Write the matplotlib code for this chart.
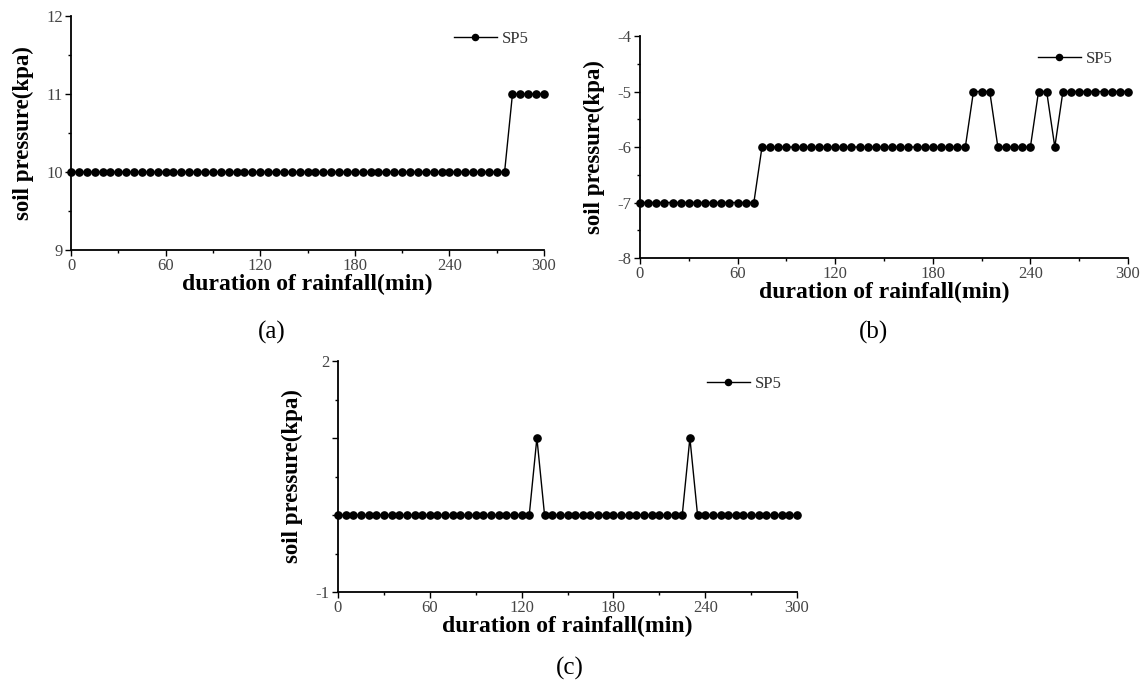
import matplotlib
matplotlib.use("Agg")
import matplotlib.pyplot as plt
import numpy as np
from matplotlib.ticker import MultipleLocator

plt.rcParams['font.family'] = ['Liberation Serif', 'DejaVu Serif']
plt.rcParams['axes.unicode_minus'] = False

# time axis: one reading every 5 min
t = np.arange(0, 301, 5)

# (a) SP5: 10 kPa until 275 min, then 11 kPa
sp5_a = [10] * 56 + [11] * 5
# (b) SP5
sp5_b = [-7] * 15 + [-6] * 26 + [-5] * 3 + [-6] * 5 + [-5] * 2 + [-6] * 1 + [-5] * 9
# (c) SP5: two single-step peaks at 130 and 230 min
sp5_c = [0] * 26 + [1] + [0] * 19 + [1] + [0] * 14

W, H = 1147, 683
fig = plt.figure(figsize=(W / 100, H / 100), dpi=100)


def add_ax(left, right, top, bottom):
    return fig.add_axes([left / W, 1 - bottom / H, (right - left) / W, (bottom - top) / H])


panels = [
    (add_ax(71, 544, 16, 250), sp5_a, (9, 12), None),
    (add_ax(640, 1128, 36, 258), sp5_b, (-8, -4), None),
    (add_ax(338, 797, 361, 592), sp5_c, (-1, 2), ['-1', '', '', '2']),
]

for ax, y, ylim, ylabels in panels:
    ax.plot(t, y, '-', color='black', lw=1, marker='o', ms=5.2, mfc='black', mec='black',
            label='SP5', clip_on=False)
    ax.set_xlim(0, 300)
    ax.set_ylim(*ylim)
    ax.set_xticks(np.arange(0, 301, 60))
    ax.xaxis.set_minor_locator(MultipleLocator(30))
    ax.set_yticks(np.arange(ylim[0], ylim[1] + 1, 1))
    ax.yaxis.set_minor_locator(MultipleLocator(0.5))
    if ylabels is not None:
        ax.set_yticklabels(ylabels)
    for s in ['top', 'right']:
        ax.spines[s].set_visible(False)
    for s in ['left', 'bottom']:
        ax.spines[s].set_linewidth(1.3)
    ax.tick_params(which='major', direction='out', length=4, width=1, labelsize=12,
                   labelcolor='#444444', pad=2)
    ax.tick_params(which='minor', direction='out', length=2.5, width=1)
    ax.set_xlabel('duration of rainfall(min)', fontsize=17, fontweight='bold', labelpad=0)
    ax.set_ylabel('soil pressure(kpa)', fontsize=16.5, fontweight='bold', labelpad=9)
    ax.legend(loc='upper right', frameon=False, fontsize=12, handlelength=2.6,
              handletextpad=0.3, markerscale=0.85, labelcolor='#333333',
              bbox_to_anchor=(1.0, 1.0))

fig.text(272 / W, 1 - 332 / H, '(a)', ha='center', va='center', fontsize=18)
fig.text(873 / W, 1 - 332 / H, '(b)', ha='center', va='center', fontsize=18)
fig.text(570 / W, 1 - 668 / H, '(c)', ha='center', va='center', fontsize=18)

plt.savefig('out.png', dpi=100)
